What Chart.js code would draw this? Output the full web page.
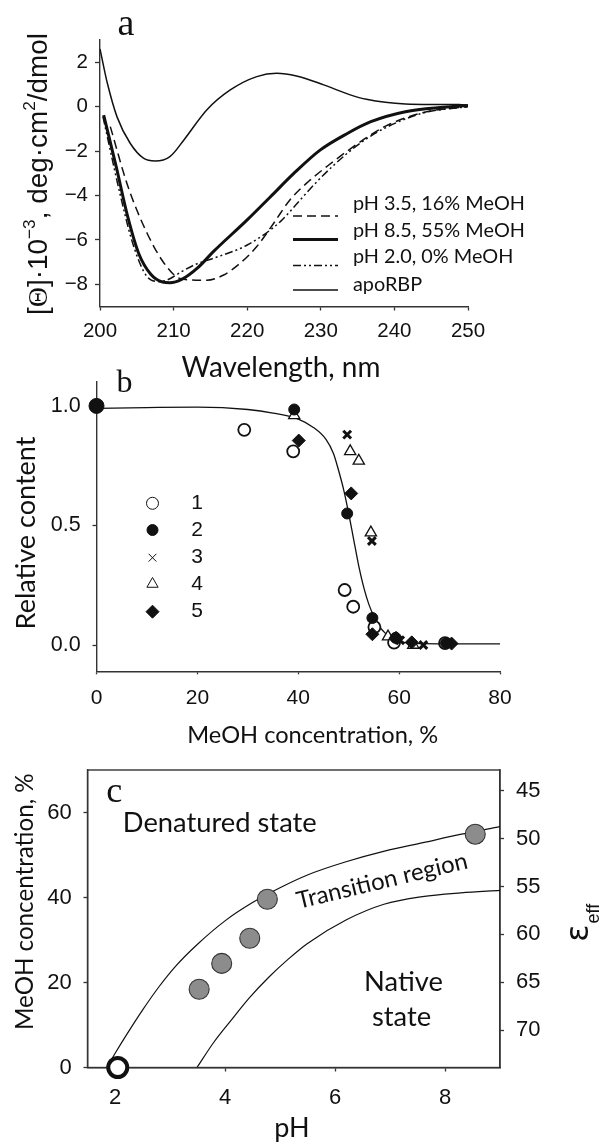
<!DOCTYPE html>
<html><head><meta charset="utf-8">
<script src="https://cdn.jsdelivr.net/npm/chart.js@4.4.0/dist/chart.umd.min.js"></script>
<style>
html,body{margin:0;padding:0;background:#fff;}
#wrap{position:relative;width:602px;height:1142px;background:#fff;}
canvas{position:absolute;left:0;top:0;}
</style></head><body>
<div id="wrap">
<canvas id="ca" width="602" height="1142"></canvas>
<canvas id="cb" width="602" height="1142"></canvas>
<canvas id="cc" width="602" height="1142"></canvas>
</div>
<script>
// ---------- Panel a: CD spectra ----------
const aWl_ph35 = [201.4, 203.8, 206.4, 208.5, 210.6, 212.3, 214.5, 216.8, 219.05, 221.3, 223.6, 225.8, 228.4, 231, 233.6, 236.2, 238.8, 244.1, 250];
const aVal_ph35 = [-0.9, -3.6, -5.7, -6.95, -7.7, -7.8, -7.82, -7.58, -7.05, -6.3, -5.25, -4.2, -3.35, -2.65, -2.0, -1.4, -0.88, -0.25, 0.0];
const aWl_ph85 = [200.5, 202.2, 203.8, 205.3, 206.9, 208.5, 209.5, 211.1, 213.3, 215.4, 220, 223.1, 226.3, 229.9, 233.6, 236.8, 241.5, 246.7, 250];
const aVal_ph85 = [-0.38, -2.7, -5.0, -6.65, -7.55, -7.9, -7.93, -7.78, -7.25, -6.53, -5.1, -4.08, -3.02, -1.96, -1.21, -0.68, -0.23, -0.03, 0.05];
const aWl_ph20 = [200.4, 202.7, 204.3, 205.9, 206.9, 208.2, 209.5, 211, 213, 215.4, 220, 224.5, 227.2, 230, 233.6, 236.2, 238.8, 244, 250];
const aVal_ph20 = [-0.45, -3.9, -6.0, -7.4, -7.8, -7.88, -7.75, -7.45, -7.1, -6.83, -6.23, -5.18, -4.2, -3.2, -2.1, -1.45, -0.95, -0.28, 0.0];
const aWl_apo = [200, 200.5, 201, 202.3, 204.1, 205.9, 207.5, 209.5, 211.4, 214.5, 217.7, 221.3, 224, 226.7, 230.4, 234, 236.2, 241.5, 245, 248.8, 250];
const aVal_apo = [2.6, 1.8, 1.05, -0.45, -1.65, -2.32, -2.45, -2.25, -1.5, -0.15, 0.75, 1.35, 1.5, 1.38, 0.98, 0.53, 0.33, 0.12, 0.1, 0.1, 0.05];
const aLegend = ['pH 3.5, 16% MeOH', 'pH 8.5, 55% MeOH', 'pH 2.0, 0% MeOH', 'apoRBP'];
const aTicksX = [200, 210, 220, 230, 240, 250];
const aTicksY = [-8, -6, -4, -2, 0, 2];

// ---------- Panel b: relative content vs MeOH ----------
const bFitX = [0, 10, 20, 30, 35, 40, 43, 45.5, 47, 48, 49, 50, 51, 52, 53, 54, 55, 56, 57, 58, 60, 63, 70, 80];
const bFitY = [0.99, 0.993, 0.995, 0.985, 0.97, 0.945, 0.91, 0.86, 0.8, 0.73, 0.65, 0.55, 0.44, 0.33, 0.24, 0.17, 0.12, 0.08, 0.055, 0.035, 0.015, 0.007, 0.005, 0.005];
const b1X = [0, 29.3, 39, 49.2, 50.9, 55.1, 59, 69.1];
const b1Y = [1.0, 0.90, 0.81, 0.23, 0.16, 0.075, 0.01, 0.008];
const b2X = [0, 39.2, 49.7, 54.7, 59.3, 69.3];
const b2Y = [1.0, 0.985, 0.55, 0.113, 0.03, 0.008];
const b3X = [49.7, 54.6, 60.2, 64.8];
const b3Y = [0.88, 0.435, 0.02, 0.0];
const b4X = [39.2, 50.3, 52, 54.4, 57.8, 62.8];
const b4Y = [0.96, 0.81, 0.77, 0.47, 0.035, 0.0];
const b5X = [0, 40.1, 50.5, 54.7, 59.4, 62.5, 70.4];
const b5Y = [1.0, 0.855, 0.634, 0.045, 0.03, 0.011, 0.006];
const bLegend = ['1', '2', '3', '4', '5'];
const bTicksX = [0, 20, 40, 60, 80];
const bTicksY = [0, 0.5, 1.0];

// ---------- Panel c: phase diagram ----------
const cUpperPH = [1.85, 2.0, 2.2, 2.5, 2.8, 3.1, 3.5, 4.0, 4.5, 5.0, 5.5, 6.2, 6.9, 7.6, 8.3, 9.0];
const cUpperMeOH = [0, 3.3, 7.5, 13.5, 19, 23.8, 29, 34.5, 38.8, 42.3, 45.3, 48.4, 50.9, 52.9, 54.9, 56.7];
const cLowerPH = [3.49, 3.8, 4.11, 4.45, 4.8, 5.15, 5.5, 6.2, 6.89, 7.59, 8.29, 9.0];
const cLowerMeOH = [0, 6, 11.1, 16.5, 21.3, 25.5, 29.2, 34.7, 38.4, 40.2, 41.1, 41.7];
const cPtsPH = [3.53, 3.94, 4.45, 4.77, 8.55];
const cPtsMeOH = [18.4, 24.5, 30.4, 39.6, 54.9];
const cOpenPH = [2.05];
const cOpenMeOH = [0];
const cTicksX = [2, 4, 6, 8];
const cTicksY = [0, 20, 40, 60];
const cTicksEps = [45, 50, 55, 60, 65, 70];

// ---------- helpers ----------
const FONT_TICK = "'Liberation Sans', Arial, sans-serif";
const FONT_TITLE = "Lato, 'Open Sans', sans-serif";
const FONT_SERIF = "'Liberation Serif', 'Times New Roman', serif";
const INK = '#111';
const AX = '#333';

function zip(xs, ys) { return xs.map((x, i) => ({x: x, y: ys[i]})); }
function fmtMinus(v) { return v < 0 ? '\u2212' + Math.abs(v) : String(v); }

function linAxis(pos, min, max, ticks, fmt, size, tl, pad, fitSize, reverse) {
  return {
    type: 'linear', position: pos, min: min, max: max, reverse: !!reverse,
    afterBuildTicks: s => { s.ticks = ticks.map(v => ({value: v})); },
    afterFit: s => { if (pos === 'left' || pos === 'right') s.width = fitSize; else s.height = fitSize; },
    ticks: { autoSkip: false, maxRotation: 0, minRotation: 0, padding: pad, color: INK,
             font: {family: FONT_TICK, size: size}, callback: v => fmt(v) },
    grid: { display: true, drawOnChartArea: false, drawTicks: tl > 0, tickLength: tl, tickColor: AX, tickWidth: 1.3 },
    border: { display: true, color: AX, width: 1.4 }
  };
}
function sizeFor(ctx, text, family, target) {
  ctx.save(); ctx.font = '100px ' + family; const w = ctx.measureText(text).width; ctx.restore();
  return 100 * target / w;
}
function drawText(ctx, text, x, y, o) {
  ctx.save(); ctx.translate(x, y); if (o.rot) ctx.rotate(o.rot);
  ctx.font = o.size + 'px ' + o.family; ctx.fillStyle = o.color || INK;
  ctx.textAlign = o.align || 'center'; ctx.textBaseline = o.baseline || 'middle';
  ctx.fillText(text, 0, 0); ctx.restore();
}
function fitText(ctx, text, cx, cy, target, family, rot) {
  const s = sizeFor(ctx, text, family, target);
  drawText(ctx, text, cx, cy, {family: family, size: s, rot: rot});
  return s;
}
const common = { responsive: false, animation: false, devicePixelRatio: 1,
  plugins: { legend: {display: false}, tooltip: {enabled: false} }, events: [] };

// ---------- Chart A ----------
const aStyles = [
  {w: 1.5, dash: [9, 5]},
  {w: 3, dash: []},
  {w: 1.5, dash: [8, 3, 2, 3, 2, 3]},
  {w: 1.5, dash: []}
];
const aSeries = [[aWl_ph35, aVal_ph35], [aWl_ph85, aVal_ph85], [aWl_ph20, aVal_ph20], [aWl_apo, aVal_apo]];
const aPlugin = {
  id: 'aExtra',
  afterDraw(chart) {
    const ctx = chart.ctx;
    drawText(ctx, 'a', 126, 35, {family: FONT_SERIF, size: 38, baseline: 'alphabetic'});
    const textBase = [210, 236.7, 263.3, 290.7];
    const lineY = [216, 239.5, 265.5, 290];
    const s = sizeFor(ctx, aLegend[0], FONT_TITLE, 172);
    aLegend.forEach((t, i) => {
      ctx.save(); ctx.strokeStyle = INK; ctx.lineWidth = aStyles[i].w; ctx.setLineDash(aStyles[i].dash);
      ctx.beginPath(); ctx.moveTo(293, lineY[i]); ctx.lineTo(338, lineY[i]); ctx.stroke(); ctx.restore();
      drawText(ctx, t, 353, textBase[i], {family: FONT_TITLE, size: s, align: 'left', baseline: 'alphabetic'});
    });
    fitText(ctx, 'Wavelength, nm', 281, 368, 199, FONT_TITLE, 0);
    const segs = [['[', 0], ['\u0398', 2], [']\u00b710', 0], ['\u22123', 1], [', deg\u00b7cm', 0], ['2', 1], ['/dmol', 0]];
    const base = 26;
    function segFont(k, sz) { return (k === 1 ? sz * 0.62 : sz) + 'px ' + (k === 2 ? FONT_SERIF : FONT_TICK); }
    ctx.save();
    let total = 0;
    segs.forEach(sg => { ctx.font = segFont(sg[1], base); total += ctx.measureText(sg[0]).width; });
    const sz = base * 282 / total;
    ctx.translate(37, 174); ctx.rotate(-Math.PI / 2);
    ctx.fillStyle = INK; ctx.textBaseline = 'alphabetic'; ctx.textAlign = 'left';
    let w = 0; segs.forEach(sg => { ctx.font = segFont(sg[1], sz); w += ctx.measureText(sg[0]).width; });
    let x = -w / 2; const yb = sz * 0.36;
    segs.forEach(sg => {
      ctx.font = segFont(sg[1], sz);
      ctx.fillText(sg[0], x, sg[1] === 1 ? yb - sz * 0.42 : yb);
      x += ctx.measureText(sg[0]).width;
    });
    ctx.restore();
  }
};
new Chart(document.getElementById('ca'), {
  type: 'scatter',
  data: { datasets: aSeries.map((sr, i) => ({
    label: aLegend[i], data: zip(sr[0], sr[1]), showLine: true, borderColor: INK,
    borderWidth: aStyles[i].w, borderDash: aStyles[i].dash, pointRadius: 0, pointHoverRadius: 0,
    cubicInterpolationMode: 'monotone', fill: false
  })) },
  options: Object.assign({}, common, {
    layout: { padding: {left: 40, right: 134, top: 40, bottom: 785.5} },
    scales: {
      x: linAxis('bottom', 200, 250, aTicksX, v => String(v), 20.5, 4, 9, 50),
      y: linAxis('left', -9, 3, aTicksY, fmtMinus, 20.5, 5, 7, 60)
    }
  }),
  plugins: [aPlugin]
});

// ---------- Chart B ----------
const bMarkers = [
  {style: 'circle', r: 6, bg: '#fff', bw: 1.8, order: 2},
  {style: 'circle', r: 5.5, bg: INK, bw: 1, order: 0},
  {style: 'crossRot', r: 5.5, bg: INK, bw: 3, order: 1},
  {style: 'triangle', r: 6.5, bg: '#fff', bw: 1.3, order: 3},
  {style: 'rectRot', r: 6.5, bg: INK, bw: 1, order: 1}
];
const bSeries = [[b1X, b1Y], [b2X, b2Y], [b3X, b3Y], [b4X, b4Y], [b5X, b5Y]];
const bPlugin = {
  id: 'bExtra',
  afterDraw(chart) {
    const ctx = chart.ctx;
    drawText(ctx, 'b', 124.5, 391.7, {family: FONT_SERIF, size: 32, baseline: 'alphabetic'});
    const rows = [503.3, 530, 557.7, 584, 611.7];
    bLegend.forEach((t, i) => {
      const m = bMarkers[i];
      ctx.save(); ctx.fillStyle = m.bg; ctx.strokeStyle = INK;
      Chart.helpers.drawPoint(ctx, {pointStyle: m.style, radius: m.r, rotation: 0, borderWidth: m.bw}, 152.5, rows[i]);
      ctx.restore();
      drawText(ctx, t, 197, rows[i], {family: FONT_TICK, size: 21});
    });
    fitText(ctx, 'Relative content', 26, 533, 193, FONT_TITLE, -Math.PI / 2);
    fitText(ctx, 'MeOH concentration, %', 312.7, 735, 251, FONT_TITLE, 0);
  }
};
new Chart(document.getElementById('cb'), {
  type: 'scatter',
  data: { datasets: bSeries.map((sr, i) => ({
      label: bLegend[i], data: zip(sr[0], sr[1]), showLine: false, clip: false, order: bMarkers[i].order,
      pointStyle: bMarkers[i].style,
      pointRadius: (i === 1) ? (c => (c.raw && c.raw.x === 0 ? 7.5 : bMarkers[i].r)) : bMarkers[i].r,
      pointBackgroundColor: bMarkers[i].bg, pointBorderColor: INK, pointBorderWidth: bMarkers[i].bw,
      pointHoverRadius: 0
    })).concat([{
      label: 'fit', data: zip(bFitX, bFitY), showLine: true, borderColor: INK, borderWidth: 1.3,
      pointRadius: 0, pointHoverRadius: 0, cubicInterpolationMode: 'monotone', clip: false, order: 9
    }]) },
  options: Object.assign({}, common, {
    layout: { padding: {left: 36.5, right: 102, top: 382, bottom: 420.7} },
    scales: {
      x: linAxis('bottom', 0, 80, bTicksX, v => String(v), 21, 3, 11.4, 50),
      y: linAxis('left', -0.11, 1.1, bTicksY, v => v.toFixed(1), 21.5, 4, 11.8, 60)
    }
  }),
  plugins: [bPlugin]
});

// ---------- Chart C ----------
const cPlugin = {
  id: 'cExtra',
  beforeDatasetsDraw(chart) {
    const ctx = chart.ctx, a = chart.chartArea;
    ctx.save(); ctx.strokeStyle = AX; ctx.lineWidth = 1.4;
    ctx.strokeRect(a.left, a.top, a.right - a.left, a.bottom - a.top); ctx.restore();
  },
  afterDraw(chart) {
    const ctx = chart.ctx;
    drawText(ctx, 'c', 114.2, 801.7, {family: FONT_SERIF, size: 36, baseline: 'alphabetic'});
    const s = sizeFor(ctx, 'Denatured state', FONT_TITLE, 194);
    drawText(ctx, 'Denatured state', 122.8, 823.3, {family: FONT_TITLE, size: s, align: 'left'});
    drawText(ctx, 'Native', 403.5, 981.7, {family: FONT_TITLE, size: s});
    drawText(ctx, 'state', 401.5, 1016.7, {family: FONT_TITLE, size: s});
    fitText(ctx, 'Transition region', 382, 881, 175, FONT_TITLE, -13.5 * Math.PI / 180);
    const ts = fitText(ctx, 'MeOH concentration, %', 25, 901.7, 257, FONT_TITLE, -Math.PI / 2);
    drawText(ctx, 'pH', 292, 1128, {family: FONT_TITLE, size: 27});
    ctx.save(); ctx.translate(588.3, 941.7); ctx.rotate(-Math.PI / 2);
    ctx.fillStyle = INK; ctx.textAlign = 'left'; ctx.textBaseline = 'alphabetic';
    ctx.font = "32px 'DejaVu Sans', sans-serif"; ctx.fillText('\u03b5', 0, 0);
    const ew = ctx.measureText('\u03b5').width;
    ctx.font = "18px " + FONT_TICK; ctx.fillText('eff', ew + 1, 10.5);
    ctx.restore();
  }
};
new Chart(document.getElementById('cc'), {
  type: 'scatter',
  data: { datasets: [
    { label: 'open', data: zip(cOpenPH, cOpenMeOH), pointRadius: 9.5, pointBorderWidth: 4,
      pointBackgroundColor: '#fff', pointBorderColor: INK, clip: false, order: 0, pointHoverRadius: 0 },
    { label: 'transition points', data: zip(cPtsPH, cPtsMeOH), pointRadius: 10, pointBorderWidth: 1.1,
      pointBackgroundColor: '#8c8c8c', pointBorderColor: '#333', clip: false, order: 1, pointHoverRadius: 0 },
    { label: 'upper', data: zip(cUpperPH, cUpperMeOH), showLine: true, borderColor: INK, borderWidth: 1.2,
      pointRadius: 0, pointHoverRadius: 0, cubicInterpolationMode: 'monotone', order: 5 },
    { label: 'lower', data: zip(cLowerPH, cLowerMeOH), showLine: true, borderColor: INK, borderWidth: 1.2,
      pointRadius: 0, pointHoverRadius: 0, cubicInterpolationMode: 'monotone', order: 5 }
  ] },
  options: Object.assign({}, common, {
    layout: { padding: {left: 27.5, right: 42, top: 770, bottom: 24.5} },
    scales: {
      x: linAxis('bottom', 1.5, 9, cTicksX, v => String(v), 22, 4, 13.6, 50),
      y: linAxis('left', 0, 70, cTicksY, v => String(v), 22, 4, 11.8, 60),
      y2: linAxis('right', 42.84, 73.9, cTicksEps, v => String(v), 22, 4, 12, 60, true)
    }
  }),
  plugins: [cPlugin]
});
</script>
</body></html>
